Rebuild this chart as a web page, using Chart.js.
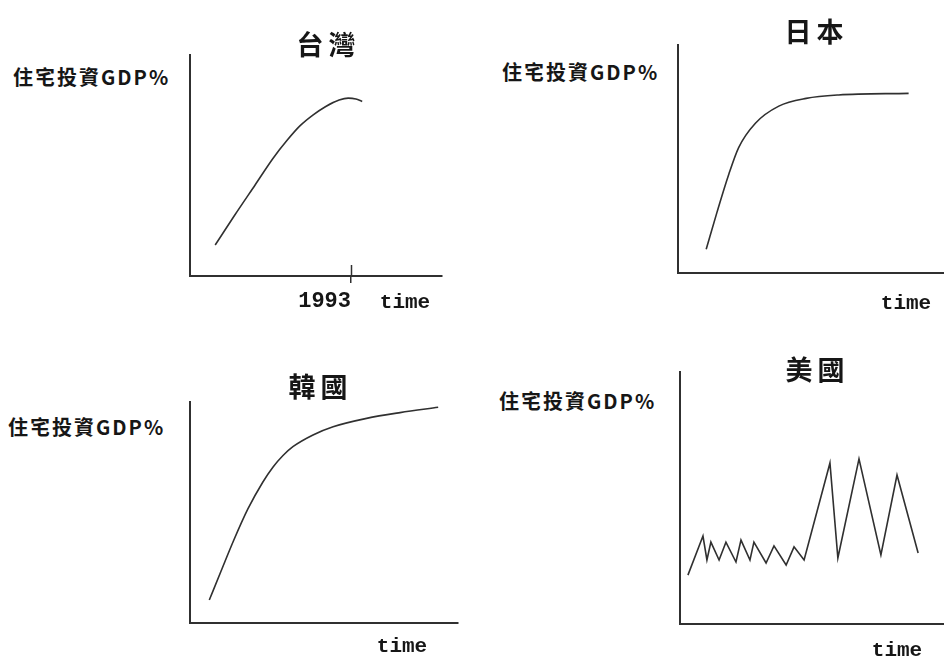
<!DOCTYPE html>
<html>
<head>
<meta charset="utf-8">
<script src="https://cdn.jsdelivr.net/npm/chart.js@4.4.1/dist/chart.umd.min.js"></script>
<style>
body{margin:0;background:#fff;width:944px;height:658px;overflow:hidden;position:relative;font-family:"Noto Sans CJK TC",sans-serif;color:#161616}
canvas{position:absolute}
.t{position:absolute;white-space:nowrap;font-weight:700;line-height:1}
.title{font-size:27px;letter-spacing:5px;padding-left:5px;transform:translate(-50%,-50%)}
.ylab{font-size:20px;letter-spacing:2px;transform:translateY(-50%)}
.time{font-family:"Liberation Mono",monospace;font-size:21px;transform:translate(-50%,-50%)}
</style>
</head>
<body>
<script>
/* sketch data: level = share of the axis height (0-100), time = share of axis width (0-100) */
const titles = ['台灣', '日本', '韓國', '美國'];
const yLabel = '住宅投資GDP%';
const xLabel = 'time';

// Taiwan, x in years
const twYears = [1973.6, 1976.4, 1979.3, 1981.9, 1983.9, 1985.7, 1987.6, 1989.4, 1991.3, 1992.6, 1993.7, 1994.6];
const twLevel = [14.0, 27.6, 41.2, 53.4, 61.5, 67.9, 72.9, 76.7, 79.6, 80.5, 80.1, 79.0];
const twTicks = [1993];

const jpTime = [10.6, 14.7, 19.1, 22.8, 29.1, 37.9, 48.2, 60.4, 86.7];
const jpLevel = [10.4, 26.8, 43.3, 55.0, 65.7, 73.2, 76.6, 78.1, 78.8];

const krTime = [7.2, 11.6, 16.2, 21.6, 27.2, 31.0, 34.7, 38.4, 45.9, 53.4, 65.9, 78.4, 92.6];
const krLevel = [10.4, 23.5, 37.1, 51.6, 63.8, 70.6, 75.8, 79.8, 85.1, 88.8, 92.6, 95.2, 97.6];

const usTime = [3.0, 8.7, 10.2, 11.7, 14.8, 17.4, 21.2, 23.1, 26.5, 28.0, 32.6, 35.6, 40.2, 43.2, 47.0, 56.8, 59.8, 67.8, 76.1, 82.2, 90.2];
const usLevel = [19.4, 34.9, 25.4, 32.5, 25.4, 32.5, 24.6, 33.3, 25.4, 32.5, 24.2, 31.0, 23.4, 30.6, 25.4, 63.9, 26.2, 65.5, 27.4, 59.1, 28.2];

const ink = '#303030';

// tick that crosses the x axis (drawn above the axis line)
const crossTick = {
  id: 'crossTick',
  afterDatasetsDraw(chart, args, opts) {
    if (!opts.values) return;
    const {ctx, chartArea, scales} = chart;
    ctx.save();
    ctx.strokeStyle = ink;
    ctx.lineWidth = 1.5;
    opts.values.forEach(v => {
      const x = Math.round(scales.x.getPixelForValue(v)) + 0.5;
      ctx.beginPath();
      ctx.moveTo(x, chartArea.bottom - 11);
      ctx.lineTo(x, chartArea.bottom);
      ctx.stroke();
    });
    ctx.restore();
  }
};

function addText(cls, text, x, y) {
  const d = document.createElement('div');
  d.className = 't ' + cls;
  d.textContent = text;
  d.style.left = x + 'px';
  d.style.top = y + 'px';
  document.body.appendChild(d);
}

function makePanel(box, xs, ys, opt) {
  const pad = 3, padB = 40;
  const c = document.createElement('canvas');
  const w = box.right - box.left + pad * 2;
  const h = box.bottom - box.top + pad + padB;
  c.width = w; c.height = h;
  c.style.left = (box.left - pad) + 'px';
  c.style.top = (box.top - pad) + 'px';
  document.body.appendChild(c);

  const ticks = opt.ticks || [];
  new Chart(c, {
    type: 'line',
    data: {
      datasets: [{
        data: xs.map((x, i) => ({x: x, y: ys[i]})),
        borderColor: ink,
        borderWidth: 1.6,
        pointRadius: 0,
        tension: opt.smooth ? 0.4 : 0,
        cubicInterpolationMode: opt.smooth ? 'monotone' : 'default'
      }]
    },
    options: {
      responsive: false,
      animation: false,
      events: [],
      layout: {padding: {left: pad, top: pad, right: pad, bottom: 0}},
      plugins: {
        legend: {display: false},
        tooltip: {enabled: false},
        crossTick: {values: ticks.length ? ticks : undefined}
      },
      scales: {
        x: {
          type: 'linear',
          min: opt.xmin, max: opt.xmax,
          afterFit: s => { s.height = padB; },
          afterBuildTicks: s => { s.ticks = ticks.map(v => ({value: v})); },
          border: {display: true, color: ink, width: 2},
          grid: {display: ticks.length > 0, drawOnChartArea: false, drawTicks: true, tickLength: 7, color: ink, lineWidth: 1.5},
          ticks: {
            display: ticks.length > 0,
            align: 'end',
            padding: 5,
            autoSkip: false,
            maxRotation: 0,
            color: '#161616',
            font: {family: 'Liberation Mono', size: 22, weight: 'bold'},
            callback: v => String(v)
          }
        },
        y: {
          min: 0, max: 100,
          afterFit: s => { s.width = 0; },
          border: {display: true, color: ink, width: 2},
          grid: {display: false, drawTicks: false},
          ticks: {display: false}
        }
      }
    },
    plugins: ticks.length ? [crossTick] : []
  });
}

makePanel({left: 190, top: 55, right: 442, bottom: 276}, twYears, twLevel, {xmin: 1970, xmax: 2006, smooth: true, ticks: twTicks});
makePanel({left: 678, top: 45, right: 944, bottom: 273}, jpTime, jpLevel, {xmin: 0, xmax: 100, smooth: true});
makePanel({left: 190, top: 402, right: 458, bottom: 623}, krTime, krLevel, {xmin: 0, xmax: 100, smooth: true});
makePanel({left: 680, top: 372, right: 944, bottom: 624}, usTime, usLevel, {xmin: 0, xmax: 100, smooth: false});

addText('title', titles[0], 326, 43);
addText('title', titles[1], 814, 30);
addText('title', titles[2], 318, 385);
addText('title', titles[3], 815, 368);

addText('ylab', yLabel, 13, 77);
addText('ylab', yLabel, 502, 72);
addText('ylab', yLabel, 8, 427);
addText('ylab', yLabel, 499, 401);

addText('time', xLabel, 405, 302);
addText('time', xLabel, 906, 303);
addText('time', xLabel, 402, 646);
addText('time', xLabel, 897, 650);
</script>
</body>
</html>
